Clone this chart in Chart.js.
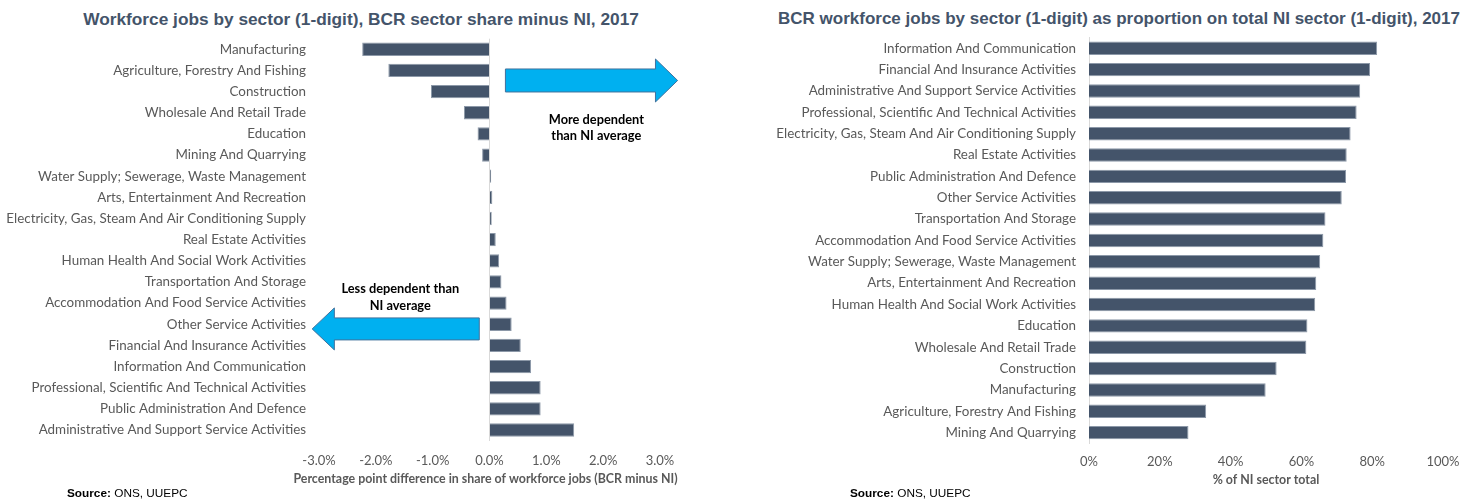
<!DOCTYPE html>
<html>
<head>
<meta charset="utf-8">
<script src="https://cdn.jsdelivr.net/npm/chart.js@4.4.1/dist/chart.umd.min.js"></script>
<style>
  html, body { margin: 0; padding: 0; background: #ffffff; }
  body { width: 1472px; height: 499px; position: relative; overflow: hidden; }
  .chart-box { position: absolute; top: 0; height: 499px; }
  .chart-title {
    position: absolute; top: 9px; line-height: 20px; white-space: nowrap;
    transform: translateX(-50%);
    font: bold 17.3px "Liberation Sans", Arial, sans-serif; color: #44546A;
  }
  .source {
    position: absolute; top: 486px; line-height: 14px; white-space: nowrap;
    font: 11.8px "Liberation Sans", Arial, sans-serif; color: #000000;
  }
</style>
</head>
<body>
<div class="chart-title" style="left:361px">Workforce jobs by sector (1-digit), BCR sector share minus NI, 2017</div>
<div class="chart-title" style="left:1119px;font-size:17px">BCR workforce jobs by sector (1-digit) as proportion on total NI sector (1-digit), 2017</div>

<div class="chart-box" style="left:0;width:723px"><canvas id="diffChart" width="723" height="499"></canvas></div>
<div class="chart-box" style="left:766px;width:706px"><canvas id="shareChart" width="706" height="499"></canvas></div>

<div class="source" style="left:67px"><b>Source:</b> ONS, UUEPC</div>
<div class="source" style="left:850px"><b>Source:</b> ONS, UUEPC</div>

<script>
// Sector share gap: BCR share of workforce jobs minus NI share (percentage points)
const diffSectors = [
  'Manufacturing',
  'Agriculture, Forestry And Fishing',
  'Construction',
  'Wholesale And Retail Trade',
  'Education',
  'Mining And Quarrying',
  'Water Supply; Sewerage, Waste Management',
  'Arts, Entertainment And Recreation',
  'Electricity, Gas, Steam And Air Conditioning Supply',
  'Real Estate Activities',
  'Human Health And Social Work Activities',
  'Transportation And Storage',
  'Accommodation And Food Service Activities',
  'Other Service Activities',
  'Financial And Insurance Activities',
  'Information And Communication',
  'Professional, Scientific And Technical Activities',
  'Public Administration And Defence',
  'Administrative And Support Service Activities'
];
const diffValues = [-2.24, -1.78, -1.03, -0.45, -0.21, -0.13, 0.03, 0.05, 0.04, 0.11,
                    0.17, 0.21, 0.30, 0.39, 0.55, 0.73, 0.90, 0.90, 1.49];
const diffTicks = [-3, -2, -1, 0, 1, 2, 3];

// BCR workforce jobs as a share of the NI total for each sector (%)
const shareSectors = [
  'Information And Communication',
  'Financial And Insurance Activities',
  'Administrative And Support Service Activities',
  'Professional, Scientific And Technical Activities',
  'Electricity, Gas, Steam And Air Conditioning Supply',
  'Real Estate Activities',
  'Public Administration And Defence',
  'Other Service Activities',
  'Transportation And Storage',
  'Accommodation And Food Service Activities',
  'Water Supply; Sewerage, Waste Management',
  'Arts, Entertainment And Recreation',
  'Human Health And Social Work Activities',
  'Education',
  'Wholesale And Retail Trade',
  'Construction',
  'Manufacturing',
  'Agriculture, Forestry And Fishing',
  'Mining And Quarrying'
];
const shareValues = [81.4, 79.4, 76.6, 75.6, 73.9, 72.8, 72.6, 71.4, 66.8, 66.2,
                     65.3, 64.2, 63.9, 61.7, 61.4, 53.0, 49.9, 33.1, 28.1];
const shareTicks = [0, 20, 40, 60, 80, 100];

const BAR_FILL = '#44546A';
const BAR_EDGE = '#8C98A8';
const LABEL_GREY = '#595959';
const AXIS_LINE = '#D9D9D9';
const LABEL_FONT = 'Lato';

// Block arrows and their captions, placed in data units of the chart's scales
const calloutPlugin = {
  id: 'callouts',
  afterDatasetsDraw(chart, args, opts) {
    const ctx = chart.ctx;
    const xs = chart.scales.x, ys = chart.scales.y;
    ctx.save();
    (opts.arrows || []).forEach(a => {
      const xTail = xs.getPixelForValue(a.tail);
      const xHead = xs.getPixelForValue(a.headBase);
      const xTip = xs.getPixelForValue(a.tip);
      const yc = ys.getPixelForValue(a.row);
      const s = a.shaftHalf, h = a.headHalf;
      ctx.beginPath();
      ctx.moveTo(xTail, yc - s);
      ctx.lineTo(xHead, yc - s);
      ctx.lineTo(xHead, yc - h);
      ctx.lineTo(xTip, yc);
      ctx.lineTo(xHead, yc + h);
      ctx.lineTo(xHead, yc + s);
      ctx.lineTo(xTail, yc + s);
      ctx.closePath();
      ctx.fillStyle = '#00B0F0';
      ctx.fill();
      ctx.lineWidth = 1;
      ctx.strokeStyle = '#41719C';
      ctx.stroke();
    });
    ctx.fillStyle = '#000000';
    ctx.font = 'bold 12.8px ' + LABEL_FONT;
    ctx.textAlign = 'center';
    ctx.textBaseline = 'middle';
    (opts.notes || []).forEach(n => {
      ctx.fillText(n.text, xs.getPixelForValue(n.x), ys.getPixelForValue(n.row));
    });
    ctx.restore();
  }
};

// Value-axis caption, centred under the plot and free to run wider than it
const axisCaptionPlugin = {
  id: 'axisCaption',
  afterDraw(chart, args, opts) {
    if (!opts.text) return;
    const {ctx, chartArea} = chart;
    ctx.save();
    ctx.font = 'bold 12.4px ' + LABEL_FONT;
    ctx.fillStyle = LABEL_GREY;
    ctx.textAlign = 'center';
    ctx.textBaseline = 'middle';
    ctx.fillText(opts.text, (chartArea.left + chartArea.right) / 2 + (opts.shift || 0),
                 chart.height - opts.fromBottom);
    ctx.restore();
  }
};

function barDataset(values) {
  return {
    data: values,
    backgroundColor: BAR_FILL,
    borderColor: BAR_EDGE,
    borderWidth: 1,
    barPercentage: 0.63,
    categoryPercentage: 1
  };
}

new Chart(document.getElementById('diffChart'), {
  type: 'bar',
  data: { labels: diffSectors, datasets: [barDataset(diffValues)] },
  options: {
    indexAxis: 'y',
    responsive: false,
    animation: false,
    layout: { padding: { top: 38.7, right: 63, bottom: 0, left: 0 } },
    plugins: {
      legend: { display: false },
      tooltip: { enabled: false },
      axisCaption: {
        text: 'Percentage point difference in share of workforce jobs (BCR minus NI)',
        fromBottom: 20, shift: -4
      },
      callouts: {
        arrows: [
          { tail: 0.28, headBase: 2.92, tip: 3.31, row: 1.475, shaftHalf: 11.5, headHalf: 21.5 },
          { tail: -0.18, headBase: -2.73, tip: -3.12, row: 13.22, shaftHalf: 11, headHalf: 21 }
        ],
        notes: [
          { text: 'More dependent', x: 1.88, row: 3.34 },
          { text: 'than NI average', x: 1.88, row: 4.10 },
          { text: 'Less dependent than', x: -1.57, row: 11.33 },
          { text: 'NI average', x: -1.57, row: 12.14 }
        ]
      }
    },
    scales: {
      x: {
        min: diffTicks[0],
        max: diffTicks[diffTicks.length - 1],
        afterBuildTicks: s => { s.ticks = diffTicks.map(v => ({ value: v })); },
        ticks: {
          callback: v => v.toFixed(1) + '%',
          color: LABEL_GREY,
          font: { family: LABEL_FONT, size: 13 },
          padding: 12.8
        },
        grid: {
          drawTicks: false,
          lineWidth: 1,
          color: c => (c.tick && c.tick.value === 0) ? AXIS_LINE : 'rgba(0,0,0,0)'
        },
        border: { display: false },
        afterFit: s => { s.height = 58.4; }
      },
      y: {
        ticks: {
          color: LABEL_GREY,
          font: { family: LABEL_FONT, size: 13.4 },
          padding: 13,
          autoSkip: false
        },
        grid: { display: false, drawTicks: false },
        border: { display: false },
        afterFit: s => { s.width = 319; }
      }
    }
  },
  plugins: [calloutPlugin, axisCaptionPlugin]
});

new Chart(document.getElementById('shareChart'), {
  type: 'bar',
  data: { labels: shareSectors, datasets: [barDataset(shareValues)] },
  options: {
    indexAxis: 'y',
    responsive: false,
    animation: false,
    layout: { padding: { top: 37.6, right: 29, bottom: 0, left: 0 } },
    plugins: {
      legend: { display: false },
      tooltip: { enabled: false },
      axisCaption: { text: '% of NI sector total', fromBottom: 19.5, shift: 0 }
    },
    scales: {
      x: {
        min: shareTicks[0],
        max: shareTicks[shareTicks.length - 1],
        afterBuildTicks: s => { s.ticks = shareTicks.map(v => ({ value: v })); },
        ticks: {
          callback: v => v + '%',
          color: LABEL_GREY,
          font: { family: LABEL_FONT, size: 13 },
          padding: 11.2
        },
        grid: { display: false, drawTicks: false },
        border: { display: false },
        afterFit: s => { s.height = 55.7; }
      },
      y: {
        ticks: {
          color: LABEL_GREY,
          font: { family: LABEL_FONT, size: 13.4 },
          padding: 13,
          autoSkip: false
        },
        grid: { display: false, drawTicks: false },
        border: { display: true, color: AXIS_LINE, width: 1 },
        afterFit: s => { s.width = 323; }
      }
    }
  },
  plugins: [axisCaptionPlugin]
});
</script>
</body>
</html>
